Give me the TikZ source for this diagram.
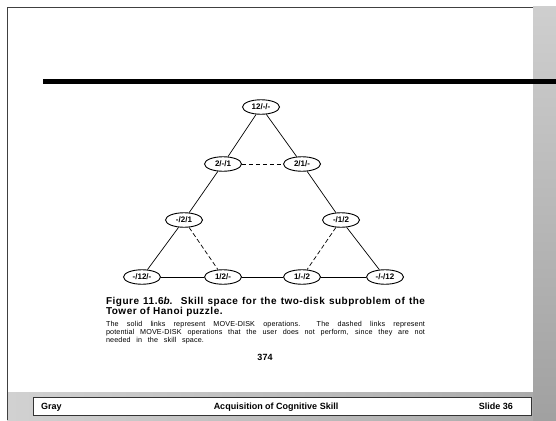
\documentclass[tikz,border=0pt]{standalone}
\usepackage{fontspec}
\setmainfont{Liberation Sans}
\newfontfamily\capfont[LetterSpace=5]{Liberation Sans}
\newfontfamily\notefont[LetterSpace=2]{Liberation Sans}
\usetikzlibrary{shapes.geometric}
\begin{document}
\begin{tikzpicture}[x=1pt,y=-1pt,
  st/.style={ellipse,draw,line width=0.9pt,minimum width=37pt,minimum height=14.5pt,inner sep=0pt,
    font=\fontsize{8}{9}\selectfont\bfseries},
  link/.style={line width=0.7pt},
  dlink/.style={line width=0.7pt,dash pattern=on 4.5pt off 2.5pt},
  txt/.style={anchor=base west,inner sep=0pt,outer sep=0pt},
  foot/.style={inner sep=0pt,font=\fontsize{9}{10}\selectfont\bfseries}]
\useasboundingbox (0,0) rectangle (556,420);
\fill[white] (0,0) rectangle (556,420);
% background bands
\shade[top color=black!19,bottom color=black!37] (533,7) rectangle (556,420);
\shade[left color=black!18,right color=black!33] (7,392) rectangle (533,420);
\draw[line width=0.8pt,black!75] (533,7) -- (7,7) -- (7,420);
\fill[black] (42.6,78.5) rectangle (556,84);
% footer
\draw[line width=0.8pt,black!80,fill=white] (33,397) rectangle (531,415);
\node[foot,anchor=base west] (fg) at (41,409) {Gray};
\node[foot,anchor=base] (ft) at (276,409) {Acquisition of Cognitive Skill};
\node[foot,anchor=base east] (fs) at (513,409) {Slide 36};
% states
\node[st] (a) at (261,107) {12/-/-};
\node[st] (b) at (223,164) {2/-/1};
\node[st] (c) at (302,164) {2/1/-};
\node[st] (d) at (184,220) {-/2/1};
\node[st] (e) at (341,220) {-/1/2};
\node[st] (f) at (142,277) {-/12/-};
\node[st] (g) at (223,277) {1/2/-};
\node[st] (h) at (302,277) {1/-/2};
\node[st] (i) at (385,277) {-/-/12};
% links
\draw[link] (a) -- (b);
\draw[link] (a) -- (c);
\draw[link] (b) -- (d);
\draw[link] (d) -- (f);
\draw[link] (c) -- (e);
\draw[link] (e) -- (i);
\draw[link] (f) -- (g);
\draw[link] (g) -- (h);
\draw[link] (h) -- (i);
\draw[dlink] (b) -- (c);
\draw[dlink] (d) -- (g);
\draw[dlink] (e) -- (h);
% caption
\node[txt] (c1) at (106,304) {\makebox[319pt][s]{\capfont\fontsize{10}{12}\selectfont\bfseries Figure 11.6\textit{b}.\ \ Skill space for the two-disk subproblem of the}};
\node[txt] (c2) at (106,314) {\capfont\fontsize{10}{12}\selectfont\bfseries Tower of Hanoi puzzle.};
\node[txt] (n1) at (106,326) {\makebox[319pt][s]{\notefont\fontsize{7.2}{8}\selectfont The solid links represent MOVE-DISK operations.\ \ The dashed links represent}};
\node[txt] (n2) at (106,334) {\makebox[319pt][s]{\notefont\fontsize{7.2}{8}\selectfont potential MOVE-DISK operations that the user does not perform, since they are not}};
\node[txt] (n3) at (106,342) {\makebox[98pt][s]{\notefont\fontsize{7.2}{8}\selectfont needed in the skill space.}};
\node[inner sep=0pt,anchor=base,font=\fontsize{9}{10}\selectfont\bfseries] (pg) at (265,360) {374};
\end{tikzpicture}
\end{document}
